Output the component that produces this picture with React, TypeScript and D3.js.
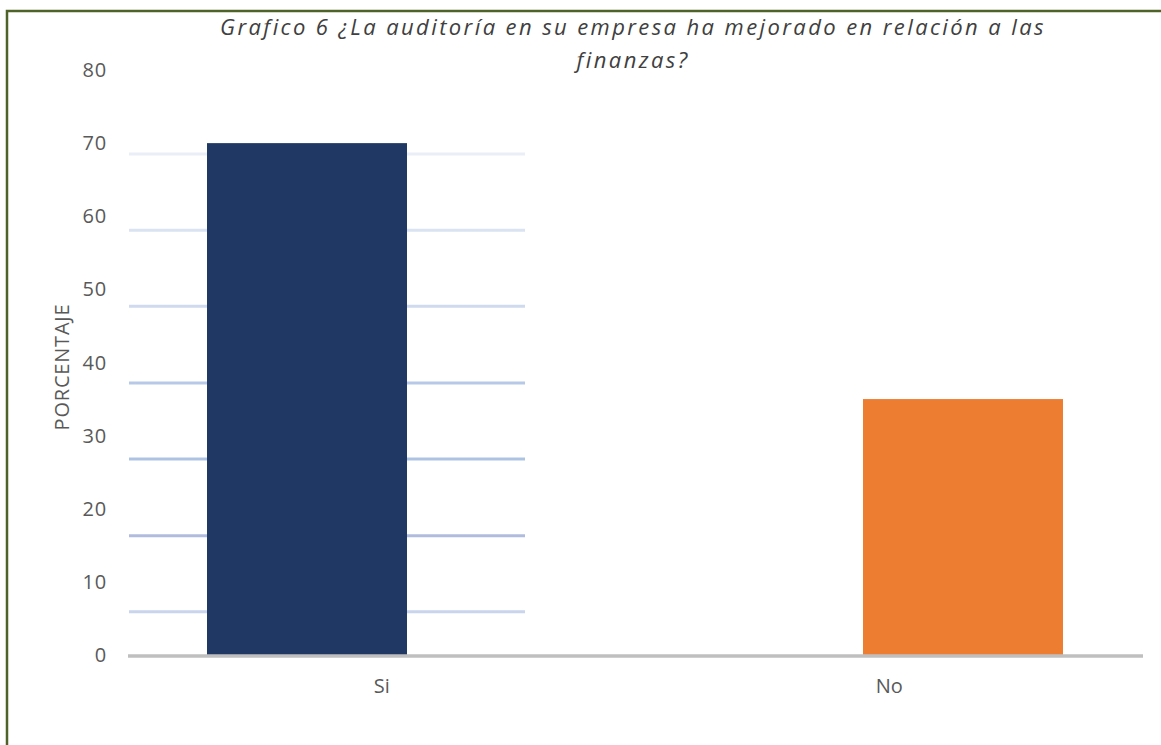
import { useEffect, useRef } from 'react';
import * as d3 from 'd3';

const categories = ['Si', 'No'];
const values = [70, 35];
const barColors = ['#203864', '#ed7d31'];
const yTicks = [0, 10, 20, 30, 40, 50, 60, 70, 80];
// light guide lines as they appear in the picture (sit slightly off the tick values)
const gridValues = [68.5, 58.1, 47.7, 37.2, 26.8, 16.3, 5.9];
const gridColors = ['#e9eef7', '#dae3f1', '#cfdaee', '#b7c9e6', '#adc3e4', '#b0bcdd', '#c8d5ec'];
const titleLines = [
  'Grafico 6 ¿La auditoría en su empresa ha mejorado en relación a las',
  'finanzas?',
];
const yTitle = 'PORCENTAJE';

export default function App() {
  const svgRef = useRef<SVGSVGElement>(null);

  useEffect(() => {
    document.body.style.margin = '0';
    if (!svgRef.current) return;

    const svg = d3.select(svgRef.current);
    svg.selectAll('*').remove();

    const width = 1161;
    const height = 745;
    const font = "'Open Sans', sans-serif";
    const textColor = '#595959';

    svg.append('rect').attr('width', width).attr('height', height).attr('fill', '#fff');

    // marco verde
    svg
      .append('rect')
      .attr('x', 7)
      .attr('y', 11)
      .attr('width', width + 20)
      .attr('height', height + 20)
      .attr('fill', 'none')
      .attr('stroke', '#4f6228')
      .attr('stroke-width', 2.5);

    const yScale = d3.scaleLinear().domain([0, 80]).range([655, 70]);

    // category axis (labels) and bar positions
    const xScale = d3.scaleBand<string>().domain(categories).range([128, 1143]);
    const barScale = d3.scalePoint<string>().domain(categories).range([307, 963]);
    const barWidth = 200;

    // gridlines
    svg
      .append('g')
      .selectAll('line')
      .data(gridValues)
      .enter()
      .append('line')
      .attr('x1', 129)
      .attr('x2', 525)
      .attr('y1', (d) => yScale(d))
      .attr('y2', (d) => yScale(d))
      .attr('stroke', (d, i) => gridColors[i])
      .attr('stroke-width', 3);

    // barras
    svg
      .append('g')
      .selectAll('rect')
      .data(values)
      .enter()
      .append('rect')
      .attr('x', (d, i) => (barScale(categories[i]) ?? 0) - barWidth / 2)
      .attr('y', (d) => yScale(d))
      .attr('width', barWidth)
      .attr('height', (d) => yScale(0) - yScale(d))
      .attr('fill', (d, i) => barColors[i]);

    // baseline
    svg
      .append('line')
      .attr('x1', 128)
      .attr('x2', 1143)
      .attr('y1', yScale(0) + 1)
      .attr('y2', yScale(0) + 1)
      .attr('stroke', '#bfbfbf')
      .attr('stroke-width', 3.5);

    // Y axis labels
    svg
      .append('g')
      .selectAll('text')
      .data(yTicks)
      .enter()
      .append('text')
      .attr('x', 107)
      .attr('y', (d) => yScale(d))
      .attr('dy', '0.35em')
      .attr('text-anchor', 'end')
      .style('font-family', font)
      .style('font-size', '20px')
      .style('letter-spacing', '0.8px')
      .style('fill', textColor)
      .text((d) => d);

    // X axis labels
    svg
      .append('g')
      .selectAll('text')
      .data(categories)
      .enter()
      .append('text')
      .attr('x', (d) => (xScale(d) ?? 0) + xScale.bandwidth() / 2)
      .attr('y', 686)
      .attr('dy', '0.35em')
      .attr('text-anchor', 'middle')
      .style('font-family', font)
      .style('font-size', '20px')
      .style('fill', textColor)
      .text((d) => d);

    // axis title
    svg
      .append('text')
      .attr('transform', 'translate(62,367) rotate(-90)')
      .attr('dy', '0.35em')
      .attr('text-anchor', 'middle')
      .style('font-family', font)
      .style('font-size', '20px')
      .style('letter-spacing', '0.8px')
      .style('fill', textColor)
      .text(yTitle);

    // título
    svg
      .append('g')
      .selectAll('text')
      .data(titleLines)
      .enter()
      .append('text')
      .attr('x', 633)
      .attr('y', (d, i) => 35 + i * 33)
      .attr('text-anchor', 'middle')
      .style('font-family', font)
      .style('font-style', 'italic')
      .style('font-size', '22px')
      .style('letter-spacing', '2.4px')
      .style('fill', '#404040')
      .text((d) => d);
  }, []);

  return <svg ref={svgRef} width={1161} height={745} style={{ display: 'block' }}></svg>;
}
